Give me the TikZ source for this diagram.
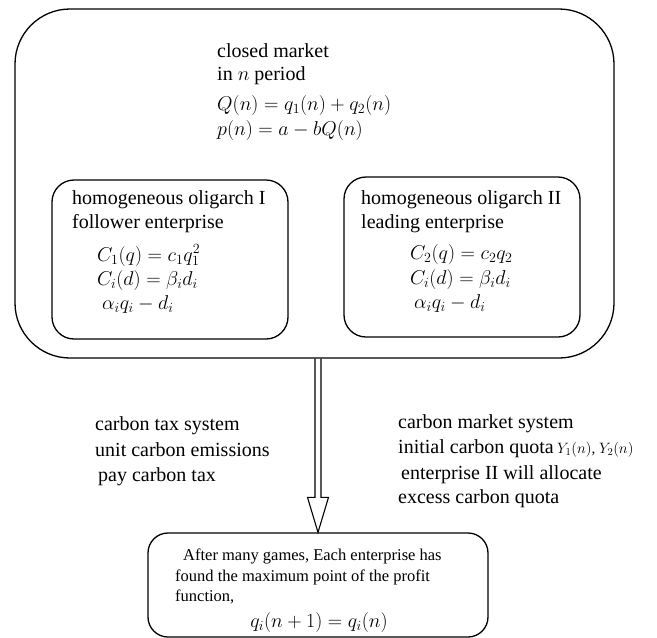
\documentclass[tikz,border=0pt]{standalone}
\usepackage{fix-cm}
\usepackage{fontspec}
\setmainfont{Liberation Serif}
\usetikzlibrary{calc}
\begin{document}
\begin{tikzpicture}[x=1pt,y=-1pt,
  box/.style={draw, line width=1.3pt, rounded corners=#1, inner sep=0pt},
  txt/.style={anchor=base west, inner sep=0pt, font=\fontsize{20}{24}\selectfont},
  sml/.style={anchor=base west, inner sep=0pt, font=\fontsize{16.5}{20}\selectfont}]
\useasboundingbox (0,0) rectangle (657,638);
% boxes
\node[box=55pt, minimum width=599pt, minimum height=349pt] (outer) at (314.5,183.5) {};
\node[box=22pt, minimum width=236pt, minimum height=159pt] (left) at (170,259.5) {};
\node[box=22pt, minimum width=236pt, minimum height=160pt] (right) at (462,257) {};
\node[box=20pt, minimum width=340pt, minimum height=104pt] (final) at (318,585) {};
% arrow
\draw[line width=1.1pt, line join=miter]
  ($(outer.south -| final.north)+(-3,0)$) -- ($(final.north)+(-3,-35)$)
  -- ($(final.north)+(-10.5,-35)$) -- (final.north)
  -- ($(final.north)+(10.5,-35)$) -- ($(final.north)+(3,-35)$)
  -- ($(outer.south -| final.north)+(3,0)$);
% top texts
\node[txt] (t1) at (217,57) {closed market};
\node[txt] (t2) at (217,80) {in $n$ period};
\node[txt] (t3) at (217,110) {$Q(n)=q_1(n)+q_2(n)$};
\node[txt] (t4) at (217,135) {$p(n)=a-bQ(n)$};
% left inner
\node[txt] (l1) at (72,204) {homogeneous oligarch I};
\node[txt] (l2) at (72,228) {follower enterprise};
\node[txt] (l3) at (97,261) {$C_1(q)=c_1q_1^2$};
\node[txt] (l4) at (97,285) {$C_i(d)=\beta_i d_i$};
\node[txt] (l5) at (102,309) {$\alpha_i q_i-d_i$};
% right inner
\node[txt] (r1) at (361,204) {homogeneous oligarch II};
\node[txt] (r2) at (361,228) {leading enterprise};
\node[txt] (r3) at (410,259) {$C_2(q)=c_2q_2$};
\node[txt] (r4) at (410,284) {$C_i(d)=\beta_i d_i$};
\node[txt] (r5) at (414,308) {$\alpha_i q_i-d_i$};
% middle left
\node[txt] (m1) at (95,430) {carbon tax system};
\node[txt] (m2) at (95,456) {unit carbon emissions};
\node[txt] (m3) at (98,481) {pay carbon tax};
% middle right
\node[txt] (n1) at (398,428) {carbon market system};
\node[txt] (n2) at (398,453) {initial carbon quota\,{\fontsize{15}{17}\selectfont$Y_1(n)$, $Y_2(n)$}};
\node[txt] (n3) at (401,479) {enterprise II will allocate};
\node[txt] (n4) at (398,503) {excess carbon quota};
% bottom
\node[sml] (b1) at (183,560) {After many games, Each enterprise has};
\node[sml] (b2) at (175,581) {found the maximum point of the profit};
\node[sml] (b3) at (175,601) {function,};
\node[txt, anchor=base] (b4) at (319,627) {$q_i(n+1)=q_i(n)$};
\end{tikzpicture}
\end{document}
